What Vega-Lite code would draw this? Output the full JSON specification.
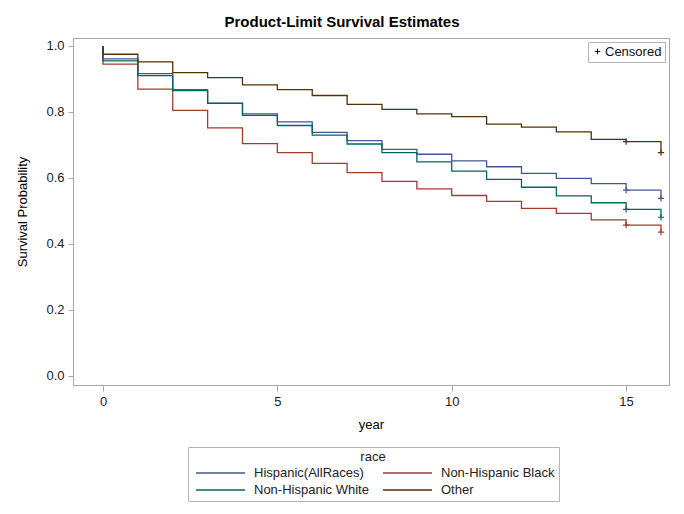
{
  "$schema": "https://vega.github.io/schema/vega-lite/v6.json",
  "width": 596,
  "height": 347,
  "autosize": {"type": "none"},
  "padding": {"left": 73, "top": 38, "right": 15, "bottom": 129},
  "background": "white",
  "title": {
    "text": "Product-Limit Survival Estimates",
    "fontSize": 15,
    "fontWeight": "bold",
    "color": "#000000",
    "anchor": "middle",
    "dx": -29,
    "offset": 8
  },
  "datasets": {
    "km": [
      {"race": "Hispanic(AllRaces)", "year": 0, "survival": 1.0},
      {"race": "Hispanic(AllRaces)", "year": 0, "survival": 0.961},
      {"race": "Hispanic(AllRaces)", "year": 1, "survival": 0.916},
      {"race": "Hispanic(AllRaces)", "year": 2, "survival": 0.868},
      {"race": "Hispanic(AllRaces)", "year": 3, "survival": 0.827},
      {"race": "Hispanic(AllRaces)", "year": 4, "survival": 0.794},
      {"race": "Hispanic(AllRaces)", "year": 5, "survival": 0.770},
      {"race": "Hispanic(AllRaces)", "year": 6, "survival": 0.738},
      {"race": "Hispanic(AllRaces)", "year": 7, "survival": 0.713},
      {"race": "Hispanic(AllRaces)", "year": 8, "survival": 0.687},
      {"race": "Hispanic(AllRaces)", "year": 9, "survival": 0.672},
      {"race": "Hispanic(AllRaces)", "year": 10, "survival": 0.652},
      {"race": "Hispanic(AllRaces)", "year": 11, "survival": 0.634},
      {"race": "Hispanic(AllRaces)", "year": 12, "survival": 0.614},
      {"race": "Hispanic(AllRaces)", "year": 13, "survival": 0.599},
      {"race": "Hispanic(AllRaces)", "year": 14, "survival": 0.583},
      {"race": "Hispanic(AllRaces)", "year": 15, "survival": 0.563},
      {"race": "Hispanic(AllRaces)", "year": 16, "survival": 0.538},

      {"race": "Non-Hispanic Black", "year": 0, "survival": 1.0},
      {"race": "Non-Hispanic Black", "year": 0, "survival": 0.945},
      {"race": "Non-Hispanic Black", "year": 1, "survival": 0.869},
      {"race": "Non-Hispanic Black", "year": 2, "survival": 0.805},
      {"race": "Non-Hispanic Black", "year": 3, "survival": 0.752},
      {"race": "Non-Hispanic Black", "year": 4, "survival": 0.704},
      {"race": "Non-Hispanic Black", "year": 5, "survival": 0.677},
      {"race": "Non-Hispanic Black", "year": 6, "survival": 0.644},
      {"race": "Non-Hispanic Black", "year": 7, "survival": 0.616},
      {"race": "Non-Hispanic Black", "year": 8, "survival": 0.590},
      {"race": "Non-Hispanic Black", "year": 9, "survival": 0.567},
      {"race": "Non-Hispanic Black", "year": 10, "survival": 0.547},
      {"race": "Non-Hispanic Black", "year": 11, "survival": 0.529},
      {"race": "Non-Hispanic Black", "year": 12, "survival": 0.508},
      {"race": "Non-Hispanic Black", "year": 13, "survival": 0.493},
      {"race": "Non-Hispanic Black", "year": 14, "survival": 0.473},
      {"race": "Non-Hispanic Black", "year": 15, "survival": 0.457},
      {"race": "Non-Hispanic Black", "year": 16, "survival": 0.436},

      {"race": "Non-Hispanic White", "year": 0, "survival": 1.0},
      {"race": "Non-Hispanic White", "year": 0, "survival": 0.955},
      {"race": "Non-Hispanic White", "year": 1, "survival": 0.910},
      {"race": "Non-Hispanic White", "year": 2, "survival": 0.865},
      {"race": "Non-Hispanic White", "year": 3, "survival": 0.826},
      {"race": "Non-Hispanic White", "year": 4, "survival": 0.790},
      {"race": "Non-Hispanic White", "year": 5, "survival": 0.759},
      {"race": "Non-Hispanic White", "year": 6, "survival": 0.730},
      {"race": "Non-Hispanic White", "year": 7, "survival": 0.703},
      {"race": "Non-Hispanic White", "year": 8, "survival": 0.677},
      {"race": "Non-Hispanic White", "year": 9, "survival": 0.649},
      {"race": "Non-Hispanic White", "year": 10, "survival": 0.621},
      {"race": "Non-Hispanic White", "year": 11, "survival": 0.596},
      {"race": "Non-Hispanic White", "year": 12, "survival": 0.572},
      {"race": "Non-Hispanic White", "year": 13, "survival": 0.546},
      {"race": "Non-Hispanic White", "year": 14, "survival": 0.525},
      {"race": "Non-Hispanic White", "year": 15, "survival": 0.505},
      {"race": "Non-Hispanic White", "year": 16, "survival": 0.481},

      {"race": "Other", "year": 0, "survival": 1.0},
      {"race": "Other", "year": 0, "survival": 0.975},
      {"race": "Other", "year": 1, "survival": 0.952},
      {"race": "Other", "year": 2, "survival": 0.919},
      {"race": "Other", "year": 3, "survival": 0.904},
      {"race": "Other", "year": 4, "survival": 0.882},
      {"race": "Other", "year": 5, "survival": 0.868},
      {"race": "Other", "year": 6, "survival": 0.850},
      {"race": "Other", "year": 7, "survival": 0.823},
      {"race": "Other", "year": 8, "survival": 0.808},
      {"race": "Other", "year": 9, "survival": 0.794},
      {"race": "Other", "year": 10, "survival": 0.786},
      {"race": "Other", "year": 11, "survival": 0.763},
      {"race": "Other", "year": 12, "survival": 0.754},
      {"race": "Other", "year": 13, "survival": 0.740},
      {"race": "Other", "year": 14, "survival": 0.717},
      {"race": "Other", "year": 15, "survival": 0.710},
      {"race": "Other", "year": 16, "survival": 0.677}
    ],
    "censored": [
      {"race": "Hispanic(AllRaces)", "year": 15, "survival": 0.563, "status": "Censored"},
      {"race": "Hispanic(AllRaces)", "year": 16, "survival": 0.538, "status": "Censored"},
      {"race": "Non-Hispanic Black", "year": 15, "survival": 0.457, "status": "Censored"},
      {"race": "Non-Hispanic Black", "year": 16, "survival": 0.436, "status": "Censored"},
      {"race": "Non-Hispanic White", "year": 15, "survival": 0.505, "status": "Censored"},
      {"race": "Non-Hispanic White", "year": 16, "survival": 0.481, "status": "Censored"},
      {"race": "Other", "year": 15, "survival": 0.710, "status": "Censored"},
      {"race": "Other", "year": 16, "survival": 0.677, "status": "Censored"}
    ]
  },
  "encoding": {
    "x": {
      "field": "year",
      "type": "quantitative",
      "title": "year",
      "scale": {"domain": [-0.86, 16.23], "nice": false, "zero": false},
      "axis": {"values": [0, 5, 10, 15], "grid": false, "tickSize": 6, "labelPadding": 4, "titlePadding": 10}
    },
    "y": {
      "field": "survival",
      "type": "quantitative",
      "title": "Survival Probability",
      "scale": {"domain": [-0.0273, 1.0242], "nice": false, "zero": false},
      "axis": {"values": [0, 0.2, 0.4, 0.6, 0.8, 1.0], "format": ".1f", "grid": false, "tickSize": 5, "labelPadding": 4, "titlePadding": 16}
    }
  },
  "layer": [
    {
      "data": {"name": "km"},
      "mark": {"type": "line", "interpolate": "step-after", "strokeWidth": 1.3},
      "encoding": {
        "color": {
          "field": "race",
          "type": "nominal",
          "scale": {
            "domain": ["Hispanic(AllRaces)", "Non-Hispanic Black", "Non-Hispanic White", "Other"],
            "range": ["#445694", "#A23A2E", "#01665E", "#543005"]
          },
          "legend": {
            "orient": "none",
            "legendX": 115,
            "legendY": 409,
            "direction": "horizontal",
            "columns": 2,
            "title": "race",
            "titleAnchor": "middle",
            "titleFontWeight": "normal",
            "titleFontSize": 13,
            "titleColor": "#222222",
            "titlePadding": 2,
            "labelFontSize": 13,
            "labelColor": "#222222",
            "labelLimit": 200,
            "labelOffset": 8,
            "symbolType": "stroke",
            "symbolSize": 2400,
            "symbolStrokeWidth": 1.5,
            "symbolOffset": 3,
            "clipHeight": 14,
            "columnPadding": 10,
            "rowPadding": 3,
            "padding": 4,
            "strokeColor": "#b4b4b4",
            "fillColor": "white"
          }
        },
        "order": [
          {"field": "year", "type": "quantitative"},
          {"field": "survival", "type": "quantitative", "sort": "descending"}
        ]
      }
    },
    {
      "data": {"name": "censored"},
      "mark": {"type": "point", "shape": "M-1,0L1,0M0,-1L0,1", "filled": false, "size": 40, "strokeWidth": 1.2, "opacity": 1},
      "encoding": {
        "stroke": {
          "field": "race",
          "type": "nominal",
          "scale": {
            "domain": ["Hispanic(AllRaces)", "Non-Hispanic Black", "Non-Hispanic White", "Other"],
            "range": ["#445694", "#A23A2E", "#01665E", "#543005"]
          },
          "legend": null
        },
        "shape": {
          "field": "status",
          "type": "nominal",
          "scale": {"domain": ["Censored"], "range": ["M-1,0L1,0M0,-1L0,1"]},
          "legend": {
            "title": null,
            "orient": "top-right",
            "offset": 4,
            "padding": 3,
            "labelFontSize": 13,
            "labelColor": "#111111",
            "labelOffset": 1,
            "symbolSize": 30,
            "symbolStrokeColor": "#000000",
            "symbolFillColor": "transparent",
            "symbolStrokeWidth": 1,
            "strokeColor": "#b4b4b4",
            "fillColor": "white"
          }
        }
      }
    }
  ],
  "config": {
    "font": "Liberation Sans",
    "view": {"stroke": "#a8a8a8", "strokeWidth": 1},
    "axis": {
      "domainColor": "#a8a8a8",
      "tickColor": "#a8a8a8",
      "labelColor": "#222222",
      "labelFontSize": 13,
      "titleColor": "#000000",
      "titleFontSize": 13,
      "titleFontWeight": "normal"
    }
  }
}
